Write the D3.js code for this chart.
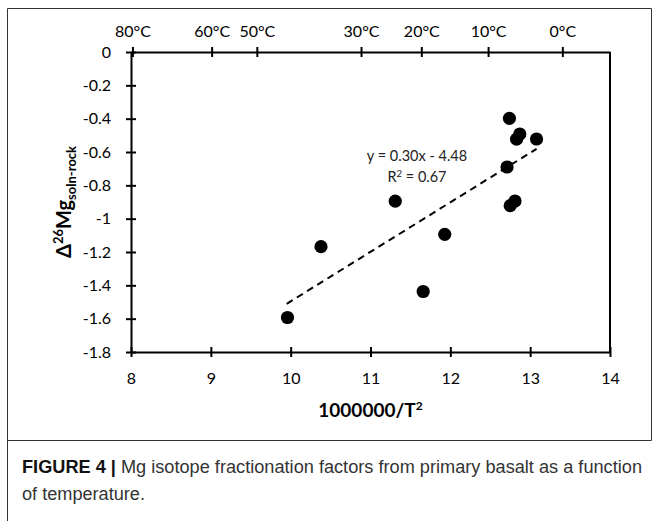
<!DOCTYPE html>
<html>
<head>
<meta charset="utf-8">
<script src="https://cdn.jsdelivr.net/npm/d3@7/dist/d3.min.js"></script>
<style>
  html, body { margin: 0; padding: 0; background: #fff; }
  svg { display: block; }
</style>
</head>
<body>
<svg id="chart" width="659" height="521"></svg>
<script>
// ---- data ----
const xValues = [9.96, 10.38, 11.31, 11.66, 11.93, 12.74, 12.83, 12.87, 13.08, 12.71, 12.75, 12.81];
const yValues = [-1.593, -1.168, -0.895, -1.437, -1.094, -0.398, -0.523, -0.492, -0.522, -0.69, -0.922, -0.894];
const xTicks = [8, 9, 10, 11, 12, 13, 14];
const yTicks = [0, -0.2, -0.4, -0.6, -0.8, -1, -1.2, -1.4, -1.6, -1.8];
const topTempTicks = [80, 60, 50, 30, 20, 10, 0]; // °C
const trendCoef = [0.297, -4.466];  // slope, intercept as drawn
const trendRange = [9.95, 13.08];
const eqLines = ["y = 0.30x - 4.48", "R² = 0.67"];

(function () {
const svg = d3.select("#chart");
const mLeft = 131, mRight = 610, mTop = 52, mBottom = 352;

const x = d3.scaleLinear().domain([8, 14]).range([mLeft, mRight]);
const y = d3.scaleLinear().domain([-1.8, 0]).range([mBottom, mTop]);

// outer frame
const frame = svg.append("g").attr("stroke", "#333").attr("stroke-width", 1).attr("fill", "none");
frame.append("path").attr("d", `M7.5,521 V8.5 H651.5 V440.5 H7.5`);

const fontChart = "Lato, 'Open Sans', sans-serif";
const tempToX = t => 1e6 / Math.pow(t + 273.15, 2);

function crossTicks(g, dir) {
  g.select(".domain").attr("stroke", "#000").attr("stroke-width", 2);
  g.selectAll(".tick line").attr("stroke", "#000").attr("stroke-width", 2);
  if (dir === "h") g.selectAll(".tick line").attr("y1", -5).attr("y2", 5);
  else g.selectAll(".tick line").attr("x1", -5).attr("x2", 5);
  g.selectAll(".tick text").attr("fill", "#000").style("font-family", fontChart).style("font-size", "16px");
}

// bottom axis
const gx = svg.append("g").attr("transform", `translate(0,${mBottom})`)
  .call(d3.axisBottom(x).tickValues(xTicks).tickFormat(d3.format("d")).tickSizeOuter(0).tickPadding(15));
crossTicks(gx, "h");

// top axis (temperature)
const gt = svg.append("g").attr("transform", `translate(0,${mTop})`)
  .call(d3.axisTop(x).tickValues(topTempTicks.map(tempToX)).tickFormat((d, i) => topTempTicks[i] + "°C").tickSizeOuter(0).tickPadding(9));
crossTicks(gt, "h");

// left axis
const gy = svg.append("g").attr("transform", `translate(${mLeft},0)`)
  .call(d3.axisLeft(y).tickValues(yTicks).tickFormat(d => d === 0 ? "0" : String(d)).tickSizeOuter(0).tickPadding(14));
crossTicks(gy, "v");

// right border
svg.append("line").attr("x1", x(14)).attr("x2", x(14)).attr("y1", y(0)).attr("y2", y(-1.8))
  .attr("stroke", "#000").attr("stroke-width", 2);

// trendline
svg.append("line")
  .attr("x1", x(trendRange[0])).attr("y1", y(trendCoef[0] * trendRange[0] + trendCoef[1]))
  .attr("x2", x(trendRange[1])).attr("y2", y(trendCoef[0] * trendRange[1] + trendCoef[1]))
  .attr("stroke", "#000").attr("stroke-width", 2).attr("stroke-dasharray", "7,5");

// points
svg.append("g").selectAll("circle").data(xValues).join("circle")
  .attr("cx", d => x(d)).attr("cy", (d, i) => y(yValues[i])).attr("r", 6.6).attr("fill", "#000");

// equation
const eq = svg.append("text").attr("text-anchor", "middle").style("font-family", fontChart)
  .style("font-size", "14.5px").attr("fill", "#222");
eq.append("tspan").attr("x", 417).attr("y", 160.5).text(eqLines[0]);
const r2 = eq.append("tspan").attr("x", 417).attr("y", 181.5);
r2.append("tspan").text("R");
r2.append("tspan").attr("dy", -5).style("font-size", "9.5px").text("2");
r2.append("tspan").attr("dy", 5).text(" = 0.67");

// x title
const xt = svg.append("text").attr("x", (mLeft + mRight) / 2).attr("y", 417).attr("text-anchor", "middle")
  .style("font-family", fontChart).style("font-size", "19px").style("font-weight", "bold").attr("fill", "#000");
xt.append("tspan").text("1000000/T");
xt.append("tspan").attr("dy", -7).style("font-size", "12px").text("2");

// y title
const yt = svg.append("text").attr("transform", `translate(71,${(mTop + mBottom) / 2}) rotate(-90)`)
  .attr("text-anchor", "middle").style("font-family", fontChart).style("font-size", "20px")
  .style("font-weight", "bold").attr("fill", "#000");
yt.append("tspan").text("Δ");
yt.append("tspan").attr("dy", -8).style("font-size", "13px").text("26");
yt.append("tspan").attr("dy", 8).text("Mg");
yt.append("tspan").attr("dy", 5).style("font-size", "13px").text("soln-rock");

// caption
const capFont = "'Liberation Sans Narrow', 'Liberation Sans', Arial, sans-serif";
const cap1 = svg.append("text").attr("x", 22).attr("y", 473)
  .style("font-family", capFont).style("font-size", "17.5px").attr("fill", "#333")
  .attr("textLength", 620).attr("lengthAdjust", "spacingAndGlyphs");
cap1.append("tspan").style("font-weight", "bold").attr("fill", "#111").text("FIGURE 4 | ");
cap1.append("tspan").text("Mg isotope fractionation factors from primary basalt as a function");
svg.append("text").attr("x", 22).attr("y", 500)
  .style("font-family", capFont).style("font-size", "17.5px").attr("fill", "#333")
  .attr("textLength", 123).attr("lengthAdjust", "spacingAndGlyphs")
  .text("of temperature.");
})();
</script>
</body>
</html>
